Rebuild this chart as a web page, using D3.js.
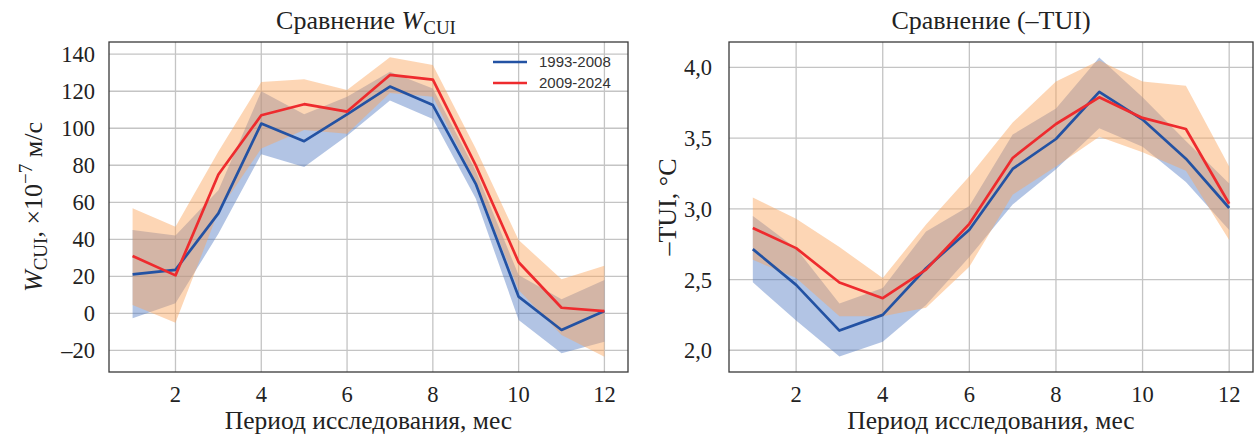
<!DOCTYPE html>
<meta charset="utf-8">
<style>
  body { margin: 0; background: #fff; }
  text { font-family: "Liberation Serif", "Times New Roman", serif; fill: #222; }
  .legend text { font-family: "Liberation Sans", Arial, sans-serif; fill: #333; }
</style>
<body>
<script src="https://d3js.org/d3.v7.min.js"></script>
<script>
var months = [1, 2, 3, 4, 5, 6, 7, 8, 9, 10, 11, 12];
var xTicks = [2, 4, 6, 8, 10, 12];
var seriesNames = ["1993-2008", "2009-2024"];

// W_CUI, x10^-7 m/s
var cuiMean1 = [21, 23.5, 54, 102.5, 93, 107.5, 122.5, 112.5, 70, 9, -9, 1.2];
var cuiLow1  = [-2.7, 5.4, 43, 86, 79, 96, 115, 105, 62, -3.6, -21.6, -15.4];
var cuiHigh1 = [45, 42, 66.5, 120, 107.5, 117, 130.5, 121.5, 77, 20.7, 7.6, 18];
var cuiMean2 = [31, 20.5, 75, 107, 113, 109, 128.8, 126.3, 80, 27.6, 3, 1.2];
var cuiLow2  = [4.5, -5.1, 55, 89, 99, 97, 119, 117, 71, 12.6, -11.7, -23.5];
var cuiHigh2 = [56.8, 46.8, 87.4, 125, 126.5, 120.7, 138.4, 134.2, 89, 39.6, 18.4, 25.7];
var cuiTicks = [-20, 0, 20, 40, 60, 80, 100, 120, 140];

// -TUI, degC
var tuiMean1 = [2.715, 2.462, 2.139, 2.25, 2.58, 2.852, 3.282, 3.494, 3.827, 3.631, 3.355, 3.006];
var tuiLow1  = [2.48, 2.21, 1.955, 2.06, 2.32, 2.66, 3.03, 3.28, 3.57, 3.44, 3.19, 2.85];
var tuiHigh1 = [2.95, 2.72, 2.33, 2.44, 2.84, 3.02, 3.525, 3.71, 4.07, 3.79, 3.48, 3.18];
var tuiMean2 = [2.864, 2.722, 2.479, 2.368, 2.57, 2.894, 3.36, 3.60, 3.789, 3.643, 3.565, 3.036];
var tuiLow2  = [2.64, 2.51, 2.24, 2.24, 2.30, 2.59, 3.10, 3.30, 3.51, 3.40, 3.27, 2.78];
var tuiHigh2 = [3.08, 2.93, 2.73, 2.51, 2.89, 3.23, 3.61, 3.90, 4.05, 3.90, 3.87, 3.30];
var tuiTicks = [2.0, 2.5, 3.0, 3.5, 4.0];

var lineColors = ["#2352a3", "#ee2b2e"];
var bandColors = ["rgb(85,125,195)", "rgb(250,164,90)"];

var svg = d3.select("body").append("svg")
    .attr("width", 1258)
    .attr("height", 436);

function drawPanel(p) {
  var x = d3.scaleLinear().domain([0.45, 12.55]).range([p.left, p.right]);
  var y = d3.scaleLinear().domain(p.yDomain).range([p.bottom, p.top]);
  var g = svg.append("g");

  // grid
  g.selectAll(".gx").data(xTicks).enter().append("line")
    .attr("x1", d => x(d)).attr("x2", d => x(d))
    .attr("y1", p.top).attr("y2", p.bottom)
    .attr("stroke", "#c4c4c4").attr("stroke-width", 1.3);
  g.selectAll(".gy").data(p.yTicks).enter().append("line")
    .attr("x1", p.left).attr("x2", p.right)
    .attr("y1", d => y(d)).attr("y2", d => y(d))
    .attr("stroke", "#c4c4c4").attr("stroke-width", 1.3);

  // bands: blue first, orange on top
  var area = d3.area()
    .x(d => x(d.m))
    .y0(d => y(d.lo))
    .y1(d => y(d.hi));
  var line = d3.line().x(d => x(d.m)).y(d => y(d.v));

  p.series.forEach(function(s, i) {
    var pts = months.map((m, j) => ({m: m, lo: s.low[j], hi: s.high[j]}));
    g.append("path").attr("d", area(pts))
      .attr("fill", bandColors[i]).attr("fill-opacity", 0.45);
  });
  p.series.forEach(function(s, i) {
    var pts = months.map((m, j) => ({m: m, v: s.mean[j]}));
    g.append("path").attr("d", line(pts))
      .attr("fill", "none").attr("stroke", lineColors[i])
      .attr("stroke-width", 2.7).attr("stroke-linejoin", "round");
  });

  // frame
  g.append("rect")
    .attr("x", p.left).attr("y", p.top)
    .attr("width", p.right - p.left).attr("height", p.bottom - p.top)
    .attr("fill", "none").attr("stroke", "#3a3a3a").attr("stroke-width", 1.3);

  // tick labels
  g.selectAll(".tx").data(xTicks).enter().append("text")
    .attr("x", d => x(d)).attr("y", p.bottom + 30)
    .attr("text-anchor", "middle").style("font-size", "22.5px")
    .text(d => d);
  g.selectAll(".ty").data(p.yTicks).enter().append("text")
    .attr("x", p.left - p.tickPad).attr("y", d => y(d) + 8)
    .attr("text-anchor", "end").style("font-size", "22.5px")
    .text(p.fmt);

  // x label
  g.append("text")
    .attr("x", (p.left + p.right) / 2).attr("y", p.bottom + 57)
    .attr("text-anchor", "middle").style("font-size", "25.5px")
    .text("Период исследования, мес");

  return {g: g, x: x, y: y};
}

var left = drawPanel({
  left: 109, right: 628, top: 42, bottom: 372,
  yDomain: [-31.7, 146.6], yTicks: cuiTicks, tickPad: 14,
  fmt: d => d < 0 ? "–" + Math.abs(d) : d,
  series: [
    {mean: cuiMean1, low: cuiLow1, high: cuiHigh1},
    {mean: cuiMean2, low: cuiLow2, high: cuiHigh2}
  ]
});

var right = drawPanel({
  left: 729, right: 1253, top: 42, bottom: 372,
  yDomain: [1.846, 4.18], yTicks: tuiTicks, tickPad: 17,
  fmt: d => d.toFixed(1).replace(".", ","),
  series: [
    {mean: tuiMean1, low: tuiLow1, high: tuiHigh1},
    {mean: tuiMean2, low: tuiLow2, high: tuiHigh2}
  ]
});

// titles
var t1 = svg.append("text").attr("x", 366).attr("y", 29)
  .attr("text-anchor", "middle").style("font-size", "26px");
t1.append("tspan").text("Сравнение ");
t1.append("tspan").style("font-style", "italic").text("W");
t1.append("tspan").attr("dy", 5).style("font-size", "19px").text("CUI");

svg.append("text").attr("x", 991).attr("y", 29)
  .attr("text-anchor", "middle").style("font-size", "26px")
  .text("Сравнение (–TUI)");

// y labels
var yl1 = svg.append("text")
  .attr("transform", "translate(42,207) rotate(-90)")
  .attr("text-anchor", "middle").style("font-size", "26px");
yl1.append("tspan").style("font-style", "italic").text("W");
yl1.append("tspan").attr("dy", 5).style("font-size", "19px").text("CUI");
yl1.append("tspan").attr("dy", -5).text(", ×10");
yl1.append("tspan").attr("dy", -10).style("font-size", "19px").text("−7");
yl1.append("tspan").attr("dy", 10).text(" м/с");

svg.append("text")
  .attr("transform", "translate(676,207) rotate(-90)")
  .attr("text-anchor", "middle").style("font-size", "26px")
  .text("–TUI, °C");

// legend
var leg = svg.append("g").attr("class", "legend");
seriesNames.forEach(function(name, i) {
  var yy = 62 + i * 21;
  leg.append("line").attr("x1", 493).attr("x2", 527)
    .attr("y1", yy).attr("y2", yy)
    .attr("stroke", lineColors[i]).attr("stroke-width", 2.7);
  leg.append("text").attr("x", 539).attr("y", yy + 5)
    .style("font-size", "15px").text(name);
});
</script>
</body>
</html>
